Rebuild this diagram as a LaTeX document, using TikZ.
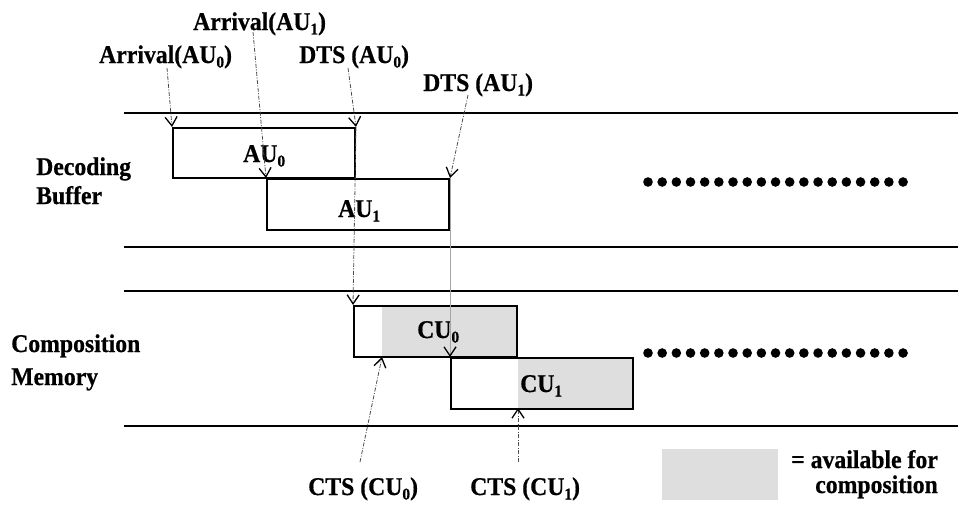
\documentclass[tikz,border=0pt]{standalone}
\usepackage{fontspec}
\setmainfont{Liberation Serif}[FakeStretch=0.93,BoldFeatures={FakeBold=0.6}]
\usetikzlibrary{arrows.meta}
\definecolor{avail}{HTML}{DEDEDE}
\newcommand{\sbx}[1]{\raisebox{-4.5pt}{\fontsize{16.5}{17}\selectfont #1}}
\begin{document}
\begin{tikzpicture}[x=1pt,y=-1pt,
  txt/.style={font=\fontsize{25.5}{28}\selectfont\bfseries, inner sep=0pt, anchor=base west},
  rtxt/.style={txt, anchor=base east},
  unitbox/.style={draw=black, line width=2pt, inner sep=0pt, anchor=north west},
  track/.style={line width=1.3pt},
  ptr/.style={draw=black!70, line width=0.8pt, dash pattern=on 4pt off 1.5pt on 1pt off 1.5pt,
    -{Straight Barb[length=9pt,width=12pt,line width=1.3pt,color=black]}},
  ptrlight/.style={ptr, draw=black!35, solid, line width=0.6pt}
]
\useasboundingbox (0,0) rectangle (958,506);

% tracks
\draw[track] (124,113) -- (958,113);
\draw[track] (124,247) -- (958,247);
\draw[track] (124,291) -- (958,291);
\draw[track] (124,426) -- (958,426);

% left labels
\node[txt] (dec) at (36,175) {Decoding};
\node[txt] (buf) at (36,204) {Buffer};
\node[txt] (comp) at (11,352) {Composition};
\node[txt] (mem) at (11,385) {Memory};

% gray availability
\fill[avail] (382,305) rectangle (516,356);
\fill[avail] (518,357) rectangle (632,408);

% boxes
\node[unitbox, minimum width=182pt, minimum height=50pt] (au0) at (172,127) {};
\node[unitbox, minimum width=182pt, minimum height=51pt] (au1) at (266,178) {};
\node[unitbox, minimum width=163pt, minimum height=51pt] (cu0) at (353,305) {};
\node[unitbox, minimum width=182pt, minimum height=51pt] (cu1) at (450,357) {};

% box labels
\node[txt] (au0t) at (243,162) {AU\sbx{0}};
\node[txt] (au1t) at (338,217) {AU\sbx{1}};
\node[txt] (cu0t) at (417,338) {CU\sbx{0}};
\node[txt] (cu1t) at (520,392) {CU\sbx{1}};

% top labels
\node[txt] (arr1) at (193,30) {Arrival(AU\sbx{1})};
\node[txt] (arr0) at (99,63) {Arrival(AU\sbx{0})};
\node[txt] (dts0) at (299,63) {DTS (AU\sbx{0})};
\node[txt] (dts1) at (423,91) {DTS (AU\sbx{1})};

% bottom labels
\node[txt] (cts0) at (308,495) {CTS (CU\sbx{0})};
\node[txt] (cts1) at (470,495) {CTS (CU\sbx{1})};

% connector ends
\coordinate (arr0s) at (167,68);
\coordinate (arr1s) at (253,32);
\coordinate (dts0s) at (348,68);
\coordinate (dts1s) at (468,95);
\coordinate (cts0s) at (360,462);
\coordinate (cts1s) at (518,462);
\coordinate (cu0avail) at (382,357);
\coordinate (cu1avail) at (518,408);

% connectors
\draw[ptr] (arr0s) -- (au0.north west);
\draw[ptr] (arr1s) -- (au1.north west);
\draw[ptr] (dts0s) -- (au0.north east);
\draw[ptr] (au0.north east) -- (cu0.north west);
\draw[ptr] (dts1s) -- (au1.north east);
\draw[ptrlight] (au1.north east) -- (cu1.north west);
\draw[ptr] (cts0s) -- (cu0avail);
\draw[ptr] (cts1s) -- (cu1avail);

% continuation dots
\foreach \i in {0,...,18} {
  \fill (648+14.17*\i,182) circle (4.8);
  \fill (648+14.17*\i,353) circle (4.8);
}

% legend
\fill[avail] (662,449) rectangle (778,500);
\node[rtxt] (leg1) at (938,468) {= available for};
\node[rtxt] (leg2) at (938,493) {composition};
\end{tikzpicture}
\end{document}
